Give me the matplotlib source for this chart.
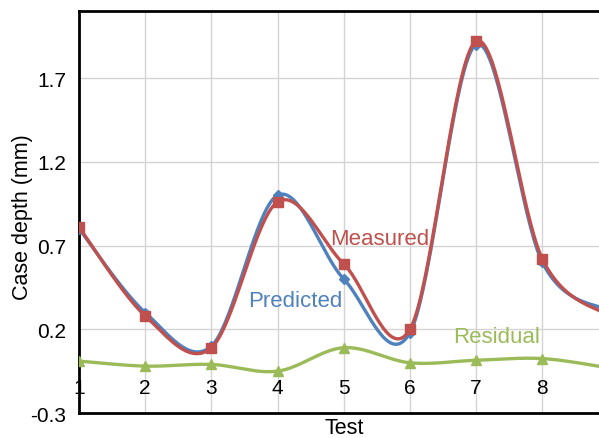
import numpy as np
import matplotlib.pyplot as plt

plt.rcParams['font.family'] = ['Liberation Sans', 'DejaVu Sans']

tests = [1, 2, 3, 4, 5, 6, 7, 8, 9]
measured = [0.81, 0.28, 0.09, 0.96, 0.59, 0.20, 1.92, 0.62, 0.28]
predicted = [0.80, 0.30, 0.10, 1.00, 0.50, 0.18, 1.90, 0.60, 0.31]
residual = [0.01, -0.02, -0.01, -0.05, 0.09, 0.00, 0.015, 0.025, -0.03]
yticks = [-0.3, 0.2, 0.7, 1.2, 1.7]
xlabels = ['1', '2', '3', '4', '5', '6', '7', '8']

RED = '#C0504D'
BLUE = '#4F81BD'
GREEN = '#9BBB59'


def smooth(x, y, n=40):
    # Catmull-Rom style bezier smoothing (same idea as spreadsheet "smoothed line")
    p = np.column_stack([x, y]).astype(float)
    p = np.vstack([p[0], p, p[-1]])
    t = np.linspace(0, 1, n)[:, None]
    out = []
    for i in range(1, len(p) - 2):
        p0, p1, p2, p3 = p[i - 1], p[i], p[i + 1], p[i + 2]
        b1 = p1 + (p2 - p0) / 6
        b2 = p2 - (p3 - p1) / 6
        seg = ((1 - t) ** 3 * p1 + 3 * (1 - t) ** 2 * t * b1
               + 3 * (1 - t) * t ** 2 * b2 + t ** 3 * p2)
        out.append(seg if i == 1 else seg[1:])
    out = np.vstack(out)
    return out[:, 0], out[:, 1]


fig = plt.figure(figsize=(5.99, 4.39), dpi=100)
ax = fig.add_axes([0.1319, 0.0569, 0.884, 0.9157])

for vals, col, mk, ms, z in [(predicted, BLUE, 'D', 5, 3),
                             (measured, RED, 's', 7, 4),
                             (residual, GREEN, '^', 7, 3)]:
    sx, sy = smooth(tests, vals)
    ax.plot(sx, sy, color=col, lw=2.4, zorder=z, solid_capstyle='round')
    ax.plot(tests, vals, ls='none', marker=mk, ms=ms, color=col, zorder=z)

ax.set_xlim(1, 9)
ax.set_ylim(-0.3, 2.1)
ax.set_yticks(yticks)
ax.set_yticklabels([f'{v:.1f}' for v in yticks])
ax.set_xticks(tests)
ax.set_xticklabels([])
ax.tick_params(length=0, labelsize=15, pad=9)
ax.grid(True, color='#d4d4d4', lw=1)
ax.set_axisbelow(True)

for s in ['left', 'bottom', 'top']:
    ax.spines[s].set_linewidth(2)
    ax.spines[s].set_color('black')
ax.spines['right'].set_visible(False)

# category labels sit just under the zero line
for x, lab in zip(tests, xlabels):
    ax.text(x, -0.15, lab, ha='center', va='center', fontsize=15, zorder=5)

ax.set_xlabel('Test', fontsize=15.5)
ax.xaxis.set_label_coords(0.5, -0.01)
ax.xaxis.label.set_va('top')
ax.set_ylabel('Case depth (mm)', fontsize=15.5)
ax.yaxis.set_label_coords(-0.106, 0.49)
ax.yaxis.label.set_va('center')

ax.text(5.55, 0.74, 'Measured', color=RED, fontsize=16, ha='center', va='center')
ax.text(4.26, 0.37, 'Predicted', color=BLUE, fontsize=16, ha='center', va='center')
ax.text(7.31, 0.155, 'Residual', color=GREEN, fontsize=16, ha='center', va='center')

fig.savefig('out.png', dpi=100)
